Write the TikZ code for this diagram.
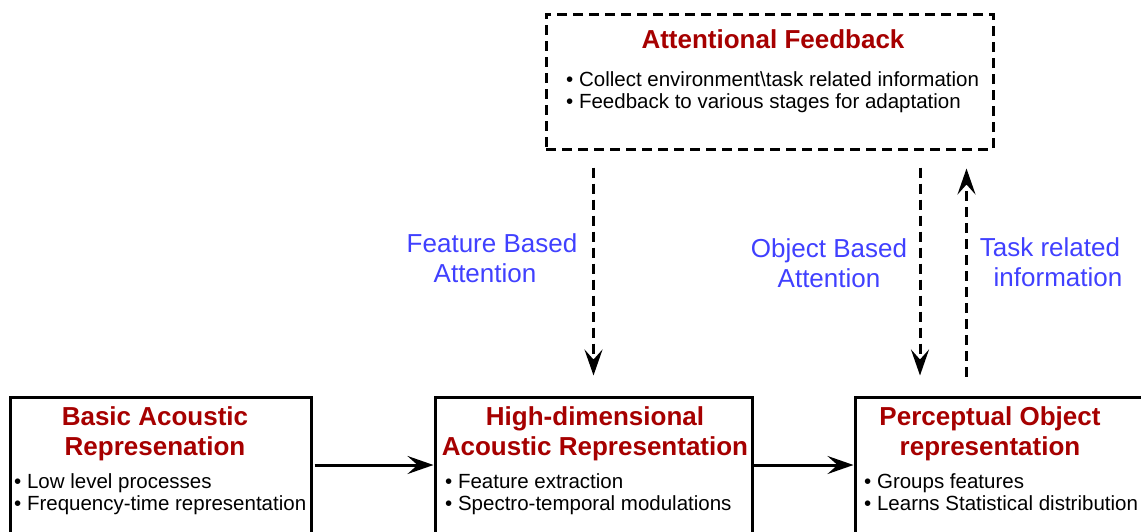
\documentclass[tikz,border=0pt]{standalone}
\usepackage{fontspec}
\setmainfont{Liberation Sans}
\usetikzlibrary{arrows.meta}
\definecolor{tred}{RGB}{166,0,0}
\definecolor{lblue}{RGB}{64,64,255}
\begin{document}
\begin{tikzpicture}[x=1pt,y=-1pt,
  box/.style={draw, line width=3pt, inner sep=0pt},
  dbox/.style={box, dash pattern=on 10pt off 6pt},
  ttl/.style={text=tred, font=\fontsize{26}{30}\selectfont\bfseries, align=center, anchor=base, inner sep=0pt},
  blt/.style={font=\fontsize{20.5}{21.7}\selectfont, align=left, anchor=base west, inner sep=0pt},
  lbl/.style={text=lblue, font=\fontsize{26}{30}\selectfont, align=center, anchor=base, inner sep=0pt},
  arr/.style={line width=3pt, -{Stealth[length=26pt,width=18pt,inset=10pt]}},
  darr/.style={arr, dash pattern=on 10pt off 6pt}]
\useasboundingbox (0,0) rectangle (1141,531);
\clip (0,0) rectangle (1141,531);
% boxes
\node[dbox, minimum width=447pt, minimum height=135pt] (top) at (769.5,81.5) {};
\node[box, minimum width=301pt, minimum height=136pt] (b1) at (160.5,465) {};
\node[box, minimum width=317pt, minimum height=136pt] (b2) at (593.5,465) {};
\node[box, minimum width=305pt, minimum height=136pt] (b3) at (1007.5,465) {};
% texts (base anchor = baseline of the last line)
\node[ttl] (t0) at (773,48) {Attentional Feedback};
\node[blt] (l0) at (566,108.3) {\textbullet\ Collect environment\textbackslash task related information\\\textbullet\ Feedback to various stages for adaptation};
\node[ttl] (t1) at (155,455) {Basic Acoustic\\Represenation};
\node[blt] (l1) at (14,510) {\textbullet\ Low level processes\\\textbullet\ Frequency-time representation};
\node[ttl] (t2) at (595,455) {High-dimensional\\Acoustic Representation};
\node[blt] (l2) at (445,510) {\textbullet\ Feature extraction\\\textbullet\ Spectro-temporal modulations};
\node[ttl] (t3) at (990,455) {Perceptual Object\\representation};
\node[blt] (l3) at (864,510) {\textbullet\ Groups features\\\textbullet\ Learns Statistical distribution};
% labels
\node[lbl] (fa) at (492,282) {Feature Based\\Attention\hspace*{14pt}};
\node[lbl] (oa) at (829,287) {Object Based\\Attention};
\node[lbl] (ta) at (1054,286) {Task related\hspace*{8pt}\\\hspace*{8pt}information};
% connectors
\draw[arr, shorten <=2pt] (b1) -- (b2);
\draw[arr] (b2) -- (b3);
\draw[darr, shorten <=17pt, shorten >=20pt] (top.south -| b2.north) -- (b2.north);
\draw[darr, shorten <=17pt, shorten >=20pt] ([xshift=150.5pt]top.south) -- ([xshift=150.5pt]top.south |- b3.north);
\draw[darr, shorten <=19pt, shorten >=18pt] ([xshift=197pt]top.south |- b3.north) -- ([xshift=197pt]top.south);
\end{tikzpicture}
\end{document}
